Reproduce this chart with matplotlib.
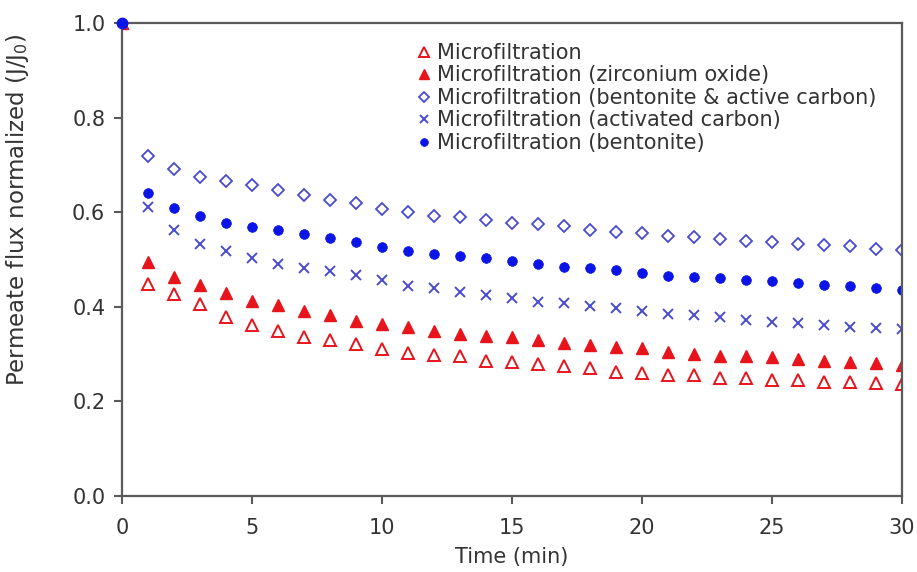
import matplotlib
matplotlib.use("Agg")
import matplotlib.pyplot as plt

time_min = list(range(0, 31))

mf_plain = [1.0, 0.449, 0.427, 0.406, 0.379, 0.362, 0.348, 0.336, 0.330, 0.322, 0.311,
            0.303, 0.298, 0.295, 0.286, 0.284, 0.279, 0.274, 0.270, 0.263, 0.261,
            0.256, 0.255, 0.250, 0.249, 0.246, 0.245, 0.242, 0.240, 0.238, 0.237]
mf_zirconium = [1.0, 0.494, 0.464, 0.447, 0.429, 0.413, 0.404, 0.392, 0.383, 0.371, 0.364,
                0.358, 0.348, 0.343, 0.339, 0.337, 0.329, 0.323, 0.320, 0.316, 0.312,
                0.305, 0.300, 0.297, 0.295, 0.293, 0.290, 0.286, 0.284, 0.281, 0.277]
mf_bent_carbon = [1.0, 0.718, 0.691, 0.675, 0.667, 0.657, 0.646, 0.636, 0.625, 0.619, 0.607,
                  0.600, 0.593, 0.590, 0.584, 0.577, 0.574, 0.570, 0.563, 0.559, 0.556,
                  0.550, 0.548, 0.543, 0.540, 0.537, 0.533, 0.531, 0.528, 0.523, 0.521]
mf_act_carbon = [1.0, 0.611, 0.563, 0.533, 0.517, 0.503, 0.491, 0.482, 0.475, 0.468, 0.457,
                 0.444, 0.440, 0.432, 0.425, 0.418, 0.411, 0.408, 0.402, 0.397, 0.391,
                 0.385, 0.383, 0.379, 0.372, 0.368, 0.365, 0.362, 0.358, 0.355, 0.353]
mf_bentonite = [1.0, 0.641, 0.608, 0.591, 0.577, 0.569, 0.563, 0.554, 0.545, 0.538, 0.527,
                0.519, 0.512, 0.508, 0.503, 0.496, 0.491, 0.485, 0.482, 0.478, 0.472,
                0.466, 0.463, 0.460, 0.457, 0.454, 0.450, 0.447, 0.443, 0.440, 0.436]

labels = ["Microfiltration",
          "Microfiltration (zirconium oxide)",
          "Microfiltration (bentonite & active carbon)",
          "Microfiltration (activated carbon)",
          "Microfiltration (bentonite)"]
x_ticks = [0, 5, 10, 15, 20, 25, 30]
y_ticks = [0.0, 0.2, 0.4, 0.6, 0.8, 1.0]

plt.rcParams['font.family'] = ['DejaVu Sans']
plt.rcParams['mathtext.fontset'] = 'dejavusans'

fig = plt.figure(figsize=(9.17, 5.72), dpi=100)
ax = fig.add_axes([122/917, 1-496/572, 780/917, 473/572])

red = '#e8141c'
blue_light = '#4a4ad0'
blue = '#0a14e6'

ax.plot(time_min, mf_plain, linestyle='none', marker='^', ms=8.5, mfc='white',
        mec=red, mew=1.4, label=labels[0])
ax.plot(time_min, mf_zirconium, linestyle='none', marker='^', ms=8.5, mfc=red,
        mec=red, mew=1.0, label=labels[1])
ax.plot(time_min, mf_bent_carbon, linestyle='none', marker='D', ms=6.0, mfc='none',
        mec=blue_light, mew=1.3, label=labels[2])
ax.plot(time_min, mf_act_carbon, linestyle='none', marker='x', ms=6.5,
        mec=blue_light, mew=1.4, label=labels[3])
ax.plot(time_min, mf_bentonite, linestyle='none', marker='o', ms=7.0, mfc=blue,
        mec=blue, mew=0.5, label=labels[4])
# the common starting point drawn unclipped in the corner, as in the reference
ax.plot(time_min[:1], mf_bentonite[:1], linestyle='none', marker='o', ms=7.5,
        mfc=blue, mec=blue, clip_on=False, zorder=5)

ax.set_xlim(0, 30)
ax.set_ylim(0, 1.0)
ax.set_xticks(x_ticks)
ax.set_xticklabels([str(v) for v in x_ticks])
ax.set_yticks(y_ticks)
ax.set_yticklabels([f"{v:.1f}" for v in y_ticks])

spine_col = '#5a5a5a'
for s in ax.spines.values():
    s.set_color(spine_col)
    s.set_linewidth(1.6)
ax.tick_params(axis='both', direction='out', length=6, width=1.5, color=spine_col,
               labelsize=15, labelcolor='#333333', pad=6)
ax.tick_params(axis='x', pad=10)

ax.set_xlabel("Time (min)", fontsize=15, color='#333333', labelpad=6)
ax.set_ylabel(r"Permeate flux normalized (J/J$_0$)", fontsize=16.5, color='#333333')
ax.yaxis.set_label_coords(-0.117, 0.605)

leg = ax.legend(loc='upper left', bbox_to_anchor=(0.381, 0.958), frameon=False,
                fontsize=15, handlelength=0.5, handletextpad=0.35, labelspacing=0.12,
                borderpad=0, borderaxespad=0, markerscale=0.8)
for t in leg.get_texts():
    t.set_color('#333333')

fig.savefig("out.png", dpi=100)
